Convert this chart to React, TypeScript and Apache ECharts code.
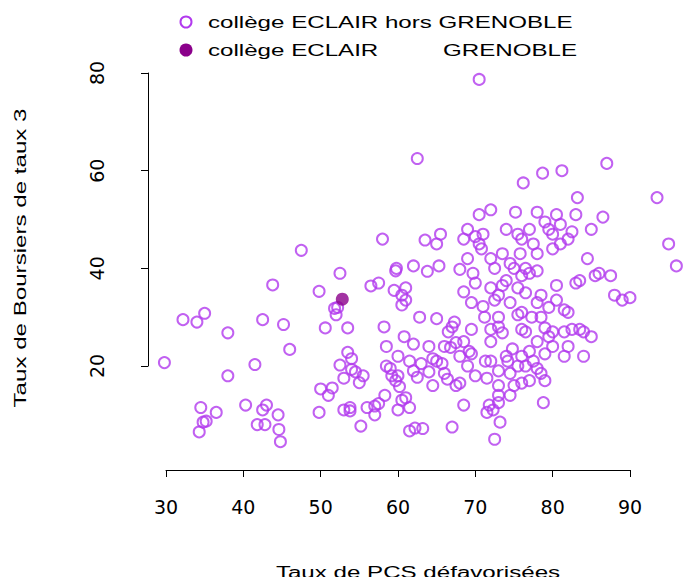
import React, { useEffect, useRef } from 'react';
import * as echarts from 'echarts';

const horsGrenoble: number[][] = [
  [29.8,20.7],[32.2,29.5],[34,29],[35,30.8],[34.5,11.5],[34.3,6.5],[34.8,8.5],[35.2,8.7],[36.5,10.5],[38,26.8],
  [38,18],[40.3,12],[41.5,20.3],[41.8,8],[42.5,29.5],[42.5,11],[43,12],[42.8,8],[43.8,36.6],[44.5,10],
  [44.6,7],[44.8,4.5],[45.2,28.5],[46,23.4],[47.5,43.7],[49.8,35.3],[49.8,10.5],[50,15.3],[50.6,27.8],[51,14],
  [51.5,15.5],[51.8,31.8],[52.2,32],[52,30.5],[52.5,20.2],[52.5,39],[53.5,27.8],[53,17.5],[53.5,22.8],[54,21.5],
  [53,11],[53.8,11.5],[53.8,10.8],[54.5,18.8],[54,19.3],[55,16.6],[55.5,18],[55.2,7.7],[56,11.5],[56.5,36.4],
  [57,11.8],[57.5,12.3],[57,10],[57.5,37],[58,46],[58.3,14],[58.2,28],[58.5,24],[58.5,20],[59,19.5],
  [59.2,18],[59.8,40],[59.7,39.5],[59.5,35.5],[59.7,17],[60,22],[60,18],[60.2,15.8],[60.5,34.5],[60.5,32.5],
  [60.8,26],[61,33.5],[61,36],[60,11],[60.5,13],[61,13.5],[61.5,11.5],[61.5,6.7],[62.2,7.3],[61.5,21],
  [62,40.5],[62,24.5],[62.5,17.7],[62,19],[62.5,62.5],[62.8,30],[63,20.5],[63.2,7.2],[63.5,45.8],[63.8,39.4],
  [64,24],[64,18.8],[64.5,16],[64.5,21.5],[65,45],[65,29.7],[65,21],[65.3,40.5],[65.5,47],[65.7,20.5],
  [66,24],[66,18.5],[66.4,17.3],[66.5,27],[66.8,23.8],[67,7.5],[67,28],[67.3,29],[67.5,24.8],[67.5,16],
  [68,39.8],[68,22],[68,16.5],[68.5,46],[68.5,35.2],[68.5,25],[68.5,12],[69,42],[69,48],[69,20],
  [69.2,23],[69.5,33],[69.5,22.5],[69.5,27.5],[69.7,39],[70,37],[70,46.5],[70,18],[70.5,51],[70.5,45],
  [70.5,78.7],[70.8,44],[71,47],[71,32.2],[71.2,30],[71.3,21],[71.5,17.5],[71.5,10.5],[71.8,12],[72,52],
  [72,42],[72,36],[72,27.5],[72,25],[72,21],[72.3,11],[72.5,5],[72.5,40],[72.5,33.5],[73,34.5],
  [73,30],[73,28],[73,19],[73,16],[73,14],[73,12.5],[73.2,8.5],[73.5,43],[73.5,36.5],[73.5,26.8],
  [74,48],[74,37.5],[74,22],[74.2,21],[74.5,41],[74.5,33],[74.5,18.5],[74.5,14],[74.8,23.5],[75,40],
  [75,16],[75.2,51.5],[75.5,47],[75.5,36],[75.5,30.5],[75.5,20],[75.8,43],[76,46],[76,38.5],[76,31],
  [76,27.5],[76,22],[76,16.5],[76.2,57.5],[76.5,40],[76.5,35],[76.5,27],[76.5,20],[77,48],[77,39],
  [77,23],[77,17],[77.3,30],[77.5,45],[77.5,21],[78,51.5],[78,43],[78,39.5],[78,33],[78,25],
  [78,19.5],[78.5,34.5],[78.5,30],[78.5,18.5],[78.7,59.5],[78.8,12.5],[79,49.5],[79,27.8],[79,22.5],[79,17],
  [79.5,48],[79.5,32],[79.5,26],[80,47],[80,44],[80,27],[80,24],[80.5,51],[80.5,36.5],[80.5,33.5],
  [81,49],[81,45],[81.2,60],[81.5,31.5],[81.5,27],[81.5,22],[82,46],[82,31],[82,24],[82.5,47.5],
  [82.5,27.5],[83,51],[83,37],[83.2,54.5],[83.5,37.5],[83.5,27.5],[84,27],[84,22],[84.5,42],[85,48],
  [85,26],[85.5,38.5],[86,39],[86.5,50.5],[87,61.5],[87.5,38.5],[88,34.5],[89,33.5],[90,34],[93.5,54.5],
  [95,45],[96,40.5],
];
const grenoble: number[][] = [[52.8, 33.7]];

const xTicks = [30, 90];
const yTicks = [20, 80];

const font = 'Liberation Sans, Arial, sans-serif';
const tickFont = 'DejaVu Sans, sans-serif';
const openColor = '#B23AEE';
const fillColor = '#8B008B';
const stretch = 1.42;

export default function App() {
  const ref = useRef<HTMLDivElement>(null);

  useEffect(() => {
    if (!ref.current) return;
    const chart = echarts.init(ref.current, null, { renderer: 'svg' });
    const txt = (text: string, x: number, y: number, align = 'left', rotation = 0) => ({
      type: 'text', x, y, rotation, scaleX: stretch,
      style: { text, font: `17px ${font}`, fill: '#000', align, verticalAlign: 'middle' },
    });
    const option: echarts.EChartsOption = {
      animation: false,
      backgroundColor: '#fff',
      grid: [
        { left: 150.5, width: 533.6, top: 68.2, height: 385.7 },
        { left: 166, width: 464, top: 73, height: 293 },
      ],
      xAxis: [
        { gridIndex: 0, type: 'value', min: 28, max: 97, show: false },
        {
          gridIndex: 1, type: 'value', min: xTicks[0], max: xTicks[1], interval: 10,
          position: 'bottom', offset: 104,
          axisLine: { lineStyle: { color: '#000', width: 1 } },
          axisTick: { length: 7, lineStyle: { color: '#000' } },
          axisLabel: { color: '#000', fontSize: 19, fontFamily: tickFont, margin: 27 },
          splitLine: { show: false },
        },
      ],
      yAxis: [
        { gridIndex: 0, type: 'value', min: 2, max: 81, show: false },
        {
          gridIndex: 1, type: 'value', min: yTicks[0], max: yTicks[1], interval: 20,
          position: 'left', offset: 18,
          axisLine: { show: true, lineStyle: { color: '#000', width: 1 } },
          axisTick: { show: true, length: 7, lineStyle: { color: '#000' } },
          axisLabel: { color: '#000', fontSize: 19, fontFamily: tickFont, rotate: 90, margin: 42 },
          splitLine: { show: false },
        },
      ],
      series: [
        {
          type: 'scatter', xAxisIndex: 0, yAxisIndex: 0, data: horsGrenoble,
          symbol: 'circle', symbolSize: 11,
          itemStyle: { color: 'rgba(0,0,0,0)', borderColor: openColor, borderWidth: 2 },
        },
        {
          type: 'scatter', xAxisIndex: 0, yAxisIndex: 0, data: grenoble,
          symbol: 'circle', symbolSize: 13,
          itemStyle: { color: fillColor },
        },
        { type: 'scatter', xAxisIndex: 1, yAxisIndex: 1, data: [] },
      ],
      graphic: [
        { type: 'circle', shape: { cx: 186, cy: 22, r: 5.5 }, style: { fill: 'none', stroke: openColor, lineWidth: 2 } },
        txt('collège ECLAIR hors GRENOBLE', 208, 22),
        { type: 'circle', shape: { cx: 186, cy: 50, r: 6.5 }, style: { fill: fillColor } },
        txt('collège ECLAIR', 208, 50),
        txt('GRENOBLE', 443, 50),
        txt('Taux de PCS défavorisées', 418, 572, 'center'),
        txt('Taux de Boursiers de taux 3', 20, 258, 'center', Math.PI / 2),
      ] as any,
    };
    chart.setOption(option);
    return () => chart.dispose();
  }, []);

  return <div ref={ref} style={{ width: 698, height: 585, margin: -8 }} />;
}
